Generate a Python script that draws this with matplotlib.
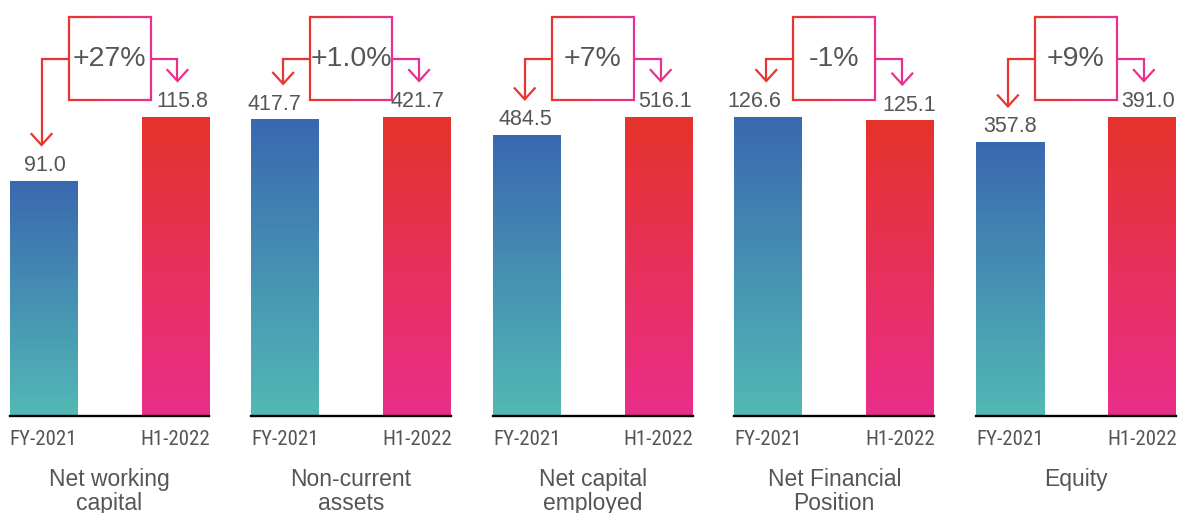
import matplotlib
matplotlib.use("Agg")
import matplotlib.pyplot as plt
import numpy as np
from matplotlib.collections import LineCollection
from matplotlib.colors import to_rgb
from matplotlib.transforms import blended_transform_factory

# data
CATEGORIES = ["Net working\ncapital", "Non-current\nassets", "Net capital\nemployed",
              "Net Financial\nPosition", "Equity"]
PERIODS = ["FY-2021", "H1-2022"]
FY2021 = [91.0, 417.7, 484.5, 126.6, 357.8]
H1_2022 = [115.8, 421.7, 516.1, 125.1, 391.0]
CHANGES = ["+27%", "+1.0%", "+7%", "-1%", "+9%"]

# small horizontal nudges of the value labels, in pixels (FY, H1)
LABEL_DX = [(1, 7), (-11, 0), (-1, 6), (-14, 9), (0, 6)]

# colours
BLUE_TOP, TEAL_BOTTOM = "#3A68B0", "#52B9B5"
RED_TOP, PINK_BOTTOM = "#E5332B", "#EA2E8A"
RED, PINK = "#E8352E", "#E9308C"
TEXT = "#555555"

# layout in pixels
W, H = 1178, 513
BASE = 416          # baseline, from top
BAR_TOP = 117       # top of the tallest bar in each panel
PANEL_X0, PITCH, PANEL_W = 9.5, 241.6, 200
UNIT = 132          # px between the two bar centres
BAR_W = 68

plt.rcParams["font.family"] = ["Liberation Sans", "DejaVu Sans"]
NARROW = ["Roboto Condensed", "Liberation Sans", "DejaVu Sans"]


def gradient_bar(ax, x, h, top, bottom):
    t = np.linspace(0, 1, 256)[:, None]
    c = np.array(to_rgb(bottom)) * (1 - t) + np.array(to_rgb(top)) * t
    w = BAR_W / UNIT
    ax.imshow(c[:, None, :], extent=[x - w / 2, x + w / 2, 0, h], origin="lower",
              aspect="auto", interpolation="bilinear", zorder=2)


def draw_panel(ax, i):
    vals = [FY2021[i], H1_2022[i]]
    ytop = max(vals) * BASE / (BASE - BAR_TOP)

    gradient_bar(ax, 0, vals[0], BLUE_TOP, TEAL_BOTTOM)
    gradient_bar(ax, 1, vals[1], RED_TOP, PINK_BOTTOM)

    ax.set_xlim(-(BAR_W / 2) / UNIT, (PANEL_W - BAR_W / 2) / UNIT)
    ax.set_ylim(0, ytop)
    ax.axhline(0, color="black", lw=1.7, zorder=3, clip_on=False)
    for s in ax.spines.values():
        s.set_visible(False)
    ax.set_yticks([])
    ax.set_xticks([0, 1], PERIODS)
    ax.tick_params(axis="x", length=0, pad=10, labelsize=15, labelcolor=TEXT)
    for lbl in ax.get_xticklabels():
        lbl.set_fontfamily(NARROW)

    # value labels
    for x, v, dx in zip([0, 1], vals, LABEL_DX[i]):
        ax.annotate(f"{v:.1f}", (x, v), xytext=(dx * 0.72, 10 * 0.72),
                    textcoords="offset points", ha="center", va="baseline",
                    fontsize=15.5, color=TEXT)

    # change box with elbow arrows
    tr = blended_transform_factory(ax.transData, ax.transAxes)
    bw = 41 / UNIT
    y_hi, y_lo = 1 - 17 / BASE, 1 - 100 / BASE
    y_mid = (y_hi + y_lo) / 2
    lw = 1.6

    ax.plot([0.5 - bw, 0.5 - bw], [y_lo, y_hi], color=RED, lw=lw, transform=tr,
            clip_on=False, solid_capstyle="projecting")
    ax.plot([0.5 + bw, 0.5 + bw], [y_lo, y_hi], color=PINK, lw=lw, transform=tr,
            clip_on=False, solid_capstyle="projecting")
    n = 40
    xs = np.linspace(0.5 - bw, 0.5 + bw, n + 1)
    cols = [np.array(to_rgb(RED)) * (1 - k / n) + np.array(to_rgb(PINK)) * (k / n) for k in range(n)]
    for yy in (y_lo, y_hi):
        segs = [[(xs[k], yy), (xs[k + 1], yy)] for k in range(n)]
        ax.add_collection(LineCollection(segs, colors=cols, linewidths=lw, transform=tr,
                                         clip_on=False, capstyle="butt"))

    ax.text(0.5, y_mid, CHANGES[i], transform=tr, ha="center", va="center",
            fontsize=20.5, color=TEXT)

    hw, hh = 10 / UNIT, 11 / BASE
    for x, v, col, side in [(-0.015, vals[0], RED, -1), (1.015, vals[1], PINK, 1)]:
        tip = v / ytop + 36 / BASE
        ax.plot([0.5 + side * bw, x, x], [y_mid, y_mid, tip], color=col, lw=lw,
                transform=tr, clip_on=False, solid_joinstyle="miter", solid_capstyle="butt")
        ax.plot([x - hw, x, x + hw], [tip + hh, tip, tip + hh], color=col, lw=lw,
                transform=tr, clip_on=False, solid_joinstyle="miter")

    ax.text(0.5, -52 / BASE, CATEGORIES[i], transform=ax.transAxes, ha="center",
            va="top", fontsize=16.5, color=TEXT, linespacing=1.08)


fig = plt.figure(figsize=(W / 100, H / 100), dpi=100)
for i in range(len(CATEGORIES)):
    x0 = PANEL_X0 + PITCH * i
    ax = fig.add_axes([x0 / W, (H - BASE) / H, PANEL_W / W, BASE / H])
    draw_panel(ax, i)

fig.savefig("out.png", dpi=100)
